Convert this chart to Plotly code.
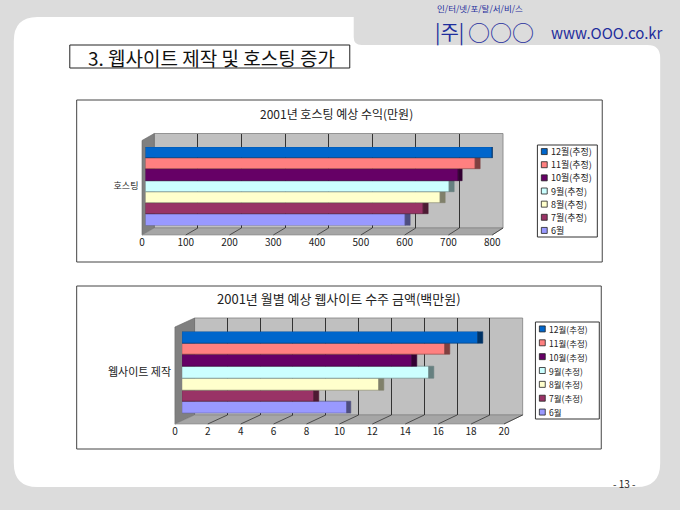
import plotly.graph_objects as go

W, H = 680, 510

# ------------------------------------------------ data ------------------------------------------------
months = ["6월", "7월(추정)", "8월(추정)", "9월(추정)", "10월(추정)", "11월(추정)", "12월(추정)"]
hosting_income = [600, 640, 680, 700, 720, 760, 800]  # 만원
website_orders = [10, 8, 12, 15, 14, 16, 18]  # 백만원
hosting_ticks = [0, 100, 200, 300, 400, 500, 600, 700, 800]
website_ticks = [0, 2, 4, 6, 8, 10, 12, 14, 16, 18, 20]

bar_colors = ["#9999FF", "#993366", "#FFFFCC", "#CCFFFF", "#660066", "#FF8080", "#0066CC"]
cap_colors = ["#4D4D80", "#4D1A33", "#80806A", "#668080", "#330033", "#804040", "#003366"]

FONT = "Noto Sans CJK KR"
BLUE = "#1F2E9C"


def fx(x):
    return x / W


def fy(y):
    return 1 - y / H


def path(points, close=True):
    s = "M " + " L ".join(f"{fx(x):.5f},{fy(y):.5f}" for x, y in points)
    return s + (" Z" if close else "")


fig = go.Figure()


def add_bars(values, category, xref, yref, cap):
    for i, (m, v) in enumerate(zip(months, values)):
        fig.add_trace(
            go.Bar(
                y=[category], x=[v], orientation="h", name=m,
                marker=dict(color=bar_colors[i], line=dict(color=cap_colors[i], width=0.6)),
                offsetgroup=str(i), xaxis=xref, yaxis=yref, showlegend=False,
                hoverinfo="x+name",
            )
        )
        # darker end face of the 3D bar
        fig.add_trace(
            go.Bar(
                y=[category], x=[cap], base=[v], orientation="h",
                marker=dict(color=cap_colors[i], line=dict(color=cap_colors[i], width=0.6)),
                offsetgroup=str(i), xaxis=xref, yaxis=yref, showlegend=False,
                hoverinfo="skip",
            )
        )


add_bars(hosting_income, "호스팅", "x2", "y2", 11)
add_bars(website_orders, "웹사이트 제작", "x5", "y5", 0.3)

# empty traces so the grid / label subplots get drawn
for xa, ya in [("x", "y"), ("x3", "y2"), ("x4", "y4"), ("x6", "y5")]:
    fig.add_trace(go.Scatter(x=[None], y=[None], xaxis=xa, yaxis=ya,
                             showlegend=False, hoverinfo="skip"))

# ------------------------------------------------ axes ------------------------------------------------
# pixel spans: (back wall x0, x1, top, bottom), (bar x0, x1, top, bottom), (floor front x0, x1, y)
TOP = dict(wall=(154, 509, 133.5, 228), bars=(145, 498.5, 147, 225.5), front=(141.5, 498, 235))
BOT = dict(wall=(195, 529, 318, 415), bars=(182.3, 517.3, 331.5, 413.5), front=(175, 510, 424))

grid = dict(showgrid=True, gridcolor="#333333", gridwidth=1, showticklabels=False,
            zeroline=False, showline=False, ticks="")
hidden = dict(visible=False, range=[0, 1])
lab = dict(showgrid=False, zeroline=False, showline=False, ticks="",
           tickfont=dict(family=FONT, size=10, color="#222222"))


def span_x(a, b):
    return [fx(a), fx(b)]


def span_y(top, bottom):
    return [fy(bottom), fy(top)]


fig.update_layout(
    # top chart: back wall, bars, tick labels on the floor edge
    xaxis=dict(domain=span_x(*TOP["wall"][:2]), range=[0, 800], tickvals=hosting_ticks, anchor="y", **grid),
    yaxis=dict(domain=span_y(*TOP["wall"][2:]), anchor="x", **hidden),
    xaxis2=dict(domain=span_x(*TOP["bars"][:2]), range=[0, 800], visible=False, anchor="y2"),
    yaxis2=dict(domain=span_y(*TOP["bars"][2:]), anchor="x2", type="category", range=[-0.5, 0.5],
                showgrid=False, showline=False, ticks="", ticklabelstandoff=6,
                tickfont=dict(family=FONT, size=9, color="#222222")),
    xaxis3=dict(domain=span_x(*TOP["front"][:2]), range=[0, 800], tickvals=hosting_ticks,
                anchor="y2", ticklabelstandoff=9, **lab),
    # bottom chart
    xaxis4=dict(domain=span_x(*BOT["wall"][:2]), range=[0, 20], tickvals=website_ticks, anchor="y4", **grid),
    yaxis4=dict(domain=span_y(*BOT["wall"][2:]), anchor="x4", **hidden),
    xaxis5=dict(domain=span_x(*BOT["bars"][:2]), range=[0, 20], visible=False, anchor="y5"),
    yaxis5=dict(domain=span_y(*BOT["bars"][2:]), anchor="x5", type="category", range=[-0.5, 0.5],
                showgrid=False, showline=False, ticks="", ticklabelstandoff=10,
                tickfont=dict(family=FONT, size=11, color="#222222")),
    xaxis6=dict(domain=span_x(*BOT["front"][:2]), range=[0, 20], tickvals=website_ticks,
                anchor="y5", ticklabelstandoff=10, **lab),
)

# ------------------------------------------------ slide shapes ------------------------------------------------
r = 24
panel = (
    f"M {fx(11 + r)},{fy(17)} L {fx(357)},{fy(17)} L {fx(357)},{fy(37)} "
    f"Q {fx(357)},{fy(45)} {fx(365)},{fy(45)} L {fx(656)},{fy(45)} "
    f"Q {fx(669)},{fy(45)} {fx(669)},{fy(58)} L {fx(669)},{fy(487 - r)} "
    f"Q {fx(669)},{fy(487)} {fx(669 - r)},{fy(487)} L {fx(11 + r)},{fy(487)} "
    f"Q {fx(11)},{fy(487)} {fx(11)},{fy(487 - r)} L {fx(11)},{fy(17 + r)} "
    f"Q {fx(11)},{fy(17)} {fx(11 + r)},{fy(17)} Z"
)

shapes = [
    dict(type="path", path=panel, fillcolor="white", line=dict(width=0)),
    # title box
    dict(type="rect", x0=fx(68), x1=fx(353), y0=fy(68), y1=fy(45),
         fillcolor="white", line=dict(color="#222222", width=1)),
    # chart frames
    dict(type="rect", x0=fx(75), x1=fx(610), y0=fy(262), y1=fy(100),
         fillcolor="white", line=dict(color="#444444", width=1)),
    dict(type="rect", x0=fx(75), x1=fx(609), y0=fy(449), y1=fy(286),
         fillcolor="white", line=dict(color="#444444", width=1)),
]

# 3D box: back wall, left wall, floor and the slanted tick lines on the floor
for spec, ticks, top in [(TOP, hosting_ticks, 800), (BOT, website_ticks, 20)]:
    wx0, wx1, wt, wb = spec["wall"]
    fx0, fx1, fyy = spec["front"]
    lift = fyy - wb
    shapes += [
        dict(type="rect", x0=fx(wx0), x1=fx(wx1), y0=fy(wb), y1=fy(wt),
             fillcolor="#C0C0C0", line=dict(color="#808080", width=0.8)),
        dict(type="path", path=path([(fx0, wt + lift), (wx0, wt), (wx0, wb), (fx0, fyy)]),
             fillcolor="#808080", line=dict(color="#666666", width=0.6)),
        dict(type="path", path=path([(fx0, fyy), (wx0, wb), (wx1, wb), (fx1, fyy)]),
             fillcolor="#A6A6A6", line=dict(color="#808080", width=0.6)),
    ]
    for t in ticks[1:]:
        front_x = fx0 + (fx1 - fx0) * t / top
        back_x = wx0 + (wx1 - wx0) * t / top
        shapes.append(dict(type="path", path=path([(front_x, fyy), (back_x, wb)], close=False),
                           line=dict(color="#333333", width=0.8)))

for s in shapes:
    s.update(layer="below")

# ------------------------------------------------ texts ------------------------------------------------
texts = [
    (212, 57, "3. 웹사이트 제작 및 호스팅 증가", 19, "#111111", "center"),
    (339, 114, "2001년 호스팅 예상 수익(만원)", 12, "#222222", "center"),
    (342, 298, "2001년 월별 예상 웹사이트 수주 금액(백만원)", 13, "#222222", "center"),
    (440, 8, "인/터/넷/포/탈/서/비/스", 8.5, BLUE, "left"),
    (438, 31, "|주|", 20, BLUE, "left"),
    (471, 31, "○○○", 22, BLUE, "left"),
    (556, 33, "www.OOO.co.kr", 15, BLUE, "left"),
    (633, 483, "- 13 -", 10, "#222222", "center"),
]
annotations = [
    dict(x=fx(x), y=fy(y), text=t, showarrow=False, xanchor=a, yanchor="middle",
         font=dict(family=FONT, size=s, color=c))
    for x, y, t, s, c, a in texts
]

# hand-built legends (plotly's own rows are too tall for these small boxes)
legend_boxes = [(544, 605, 145, 237, 9), (542, 607, 322, 419, 8.5)]
for x0, x1, y0, y1, fs in legend_boxes:
    shapes.append(dict(type="rect", x0=fx(x0), x1=fx(x1), y0=fy(y1), y1=fy(y0),
                       fillcolor="white", line=dict(color="#333333", width=1)))
    step = (y1 - y0) / len(months)
    for k, i in enumerate(reversed(range(len(months)))):
        yc = y0 + step * (k + 0.5)
        shapes.append(dict(type="rect", x0=fx(x0 + 4), x1=fx(x0 + 10), y0=fy(yc + 3), y1=fy(yc - 3),
                           fillcolor=bar_colors[i], line=dict(color="#222222", width=0.8)))
        annotations.append(dict(x=fx(x0 + 12), y=fy(yc), text=months[i], showarrow=False,
                                xanchor="left", yanchor="middle",
                                font=dict(family=FONT, size=fs, color="#222222")))

for s in shapes:
    s.update(xref="paper", yref="paper")
for a in annotations:
    a.update(xref="paper", yref="paper")

fig.update_layout(
    shapes=shapes, annotations=annotations,
    width=W, height=H, margin=dict(l=0, r=0, t=0, b=0),
    paper_bgcolor="#DCDCDC", plot_bgcolor="rgba(0,0,0,0)",
    barmode="group", bargap=0, bargroupgap=0,
    font=dict(family=FONT), showlegend=False,
)

fig.write_html(
    "out.html",
    config={"displayModeBar": False},
    post_script="document.body.style.margin = '0px'; document.body.style.overflow = 'hidden';",
)
